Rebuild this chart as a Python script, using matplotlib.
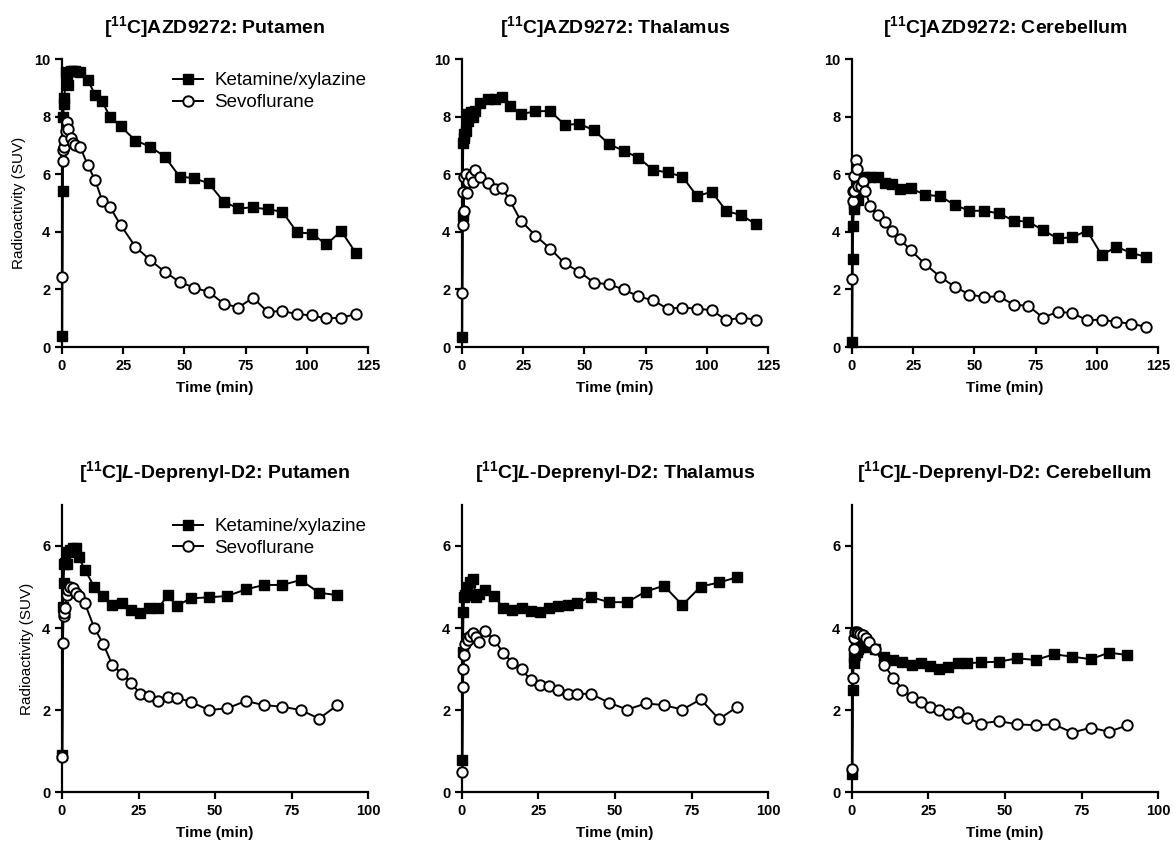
import matplotlib
matplotlib.use("Agg")
import matplotlib.pyplot as plt

plt.rcParams["font.family"] = ["Liberation Sans", "DejaVu Sans"]
plt.rcParams["mathtext.fontset"] = "custom"
plt.rcParams["mathtext.rm"] = "Liberation Sans"
plt.rcParams["mathtext.bf"] = "Liberation Sans:bold"
plt.rcParams["mathtext.it"] = "Liberation Sans:italic"
plt.rcParams["mathtext.bfit"] = "Liberation Sans:bold:italic"

# frame mid-times (min)
t_early = [0.1, 0.3, 0.5, 0.75, 1.0, 1.5, 2.0, 2.5, 3.5, 4.5, 5.5]
t_azd = t_early + [7.5, 10.5, 13.5, 16.5, 19.5] + list(range(24, 121, 6))
t_dep = t_early + [7.5, 10.5, 13.5, 16.5, 19.5, 22.5, 25.5, 28.5, 31.5, 34.5, 37.5] + list(range(42, 91, 6))

# [11C]AZD9272
azd_put_ket = [0.37, 5.43, 8.0, 8.45, 8.65, 9.55, 9.4, 9.1, 9.57, 9.6, 9.57, 9.55,
               9.28, 8.76, 8.53, 8.0, 7.66, 7.17, 6.96, 6.61, 5.92, 5.86, 5.68, 5.05,
               4.81, 4.85, 4.78, 4.70, 3.98, 3.94, 3.56, 4.03, 3.27]
azd_put_sevo = [2.44, 6.46, 6.85, 6.96, 7.2, 7.5, 7.83, 7.56, 7.25, 7.08, 7.0, 6.93,
                6.32, 5.8, 5.07, 4.87, 4.23, 3.48, 3.02, 2.61, 2.26, 2.06, 1.91, 1.51,
                1.37, 1.71, 1.22, 1.25, 1.14, 1.10, 0.99, 1.02, 1.14]
azd_thal_ket = [0.35, 4.55, 7.1, 7.4, 7.25, 7.5, 8.1, 7.85, 8.15, 8.0, 8.2, 8.47,
                8.6, 8.6, 8.68, 8.38, 8.09, 8.18, 8.2, 7.71, 7.75, 7.52, 7.05, 6.81,
                6.58, 6.15, 6.06, 5.92, 5.24, 5.39, 4.72, 4.58, 4.27]
azd_thal_sevo = [1.89, 4.22, 5.39, 4.73, 5.9, 6.0, 5.35, 5.74, 5.95, 5.74, 6.13, 5.92,
                 5.68, 5.48, 5.51, 5.1, 4.39, 3.87, 3.42, 2.9, 2.61, 2.23, 2.18, 2.0,
                 1.76, 1.62, 1.33, 1.37, 1.33, 1.28, 0.93, 1.02, 0.95]
azd_cer_ket = [0.17, 3.07, 4.21, 4.8, 5.0, 5.2, 5.3, 5.1, 5.5, 5.8, 5.92, 5.92,
               5.92, 5.71, 5.66, 5.48, 5.51, 5.28, 5.24, 4.93, 4.73, 4.73, 4.64, 4.39,
               4.35, 4.06, 3.77, 3.81, 4.04, 3.19, 3.48, 3.27, 3.13]
azd_cer_sevo = [2.37, 5.07, 5.42, 5.4, 5.94, 6.5, 6.18, 5.6, 5.6, 5.77, 5.4, 4.9,
                4.58, 4.35, 4.03, 3.75, 3.36, 2.87, 2.44, 2.09, 1.82, 1.74, 1.76, 1.47,
                1.43, 1.02, 1.22, 1.18, 0.93, 0.95, 0.87, 0.81, 0.70]

# [11C]L-Deprenyl-D2
dep_put_ket = [0.9, 4.52, 5.09, 5.56, 5.58, 5.56, 5.86, 5.9, 5.94, 5.94, 5.72, 5.42,
               5.01, 4.79, 4.56, 4.62, 4.45, 4.37, 4.49, 4.48, 4.8, 4.54,
               4.72, 4.75, 4.78, 4.94, 5.05, 5.05, 5.17, 4.86, 4.8]
dep_put_sevo = [0.86, 3.64, 4.3, 4.37, 4.5, 4.8, 4.93, 5.0, 4.98, 4.85, 4.78, 4.6,
                4.01, 3.61, 3.09, 2.89, 2.67, 2.4, 2.34, 2.21, 2.32, 2.3,
                2.2, 2.0, 2.04, 2.22, 2.12, 2.08, 2.0, 1.79, 2.12]
dep_thal_ket = [0.77, 3.42, 4.4, 4.76, 4.8, 5.0, 4.8, 5.13, 5.2, 4.76, 4.84, 4.93,
                4.79, 4.48, 4.45, 4.49, 4.41, 4.39, 4.48, 4.54, 4.56, 4.6,
                4.76, 4.63, 4.63, 4.89, 5.03, 4.56, 5.01, 5.11, 5.24]
dep_thal_sevo = [0.49, 2.57, 3.01, 3.34, 3.6, 3.75, 3.7, 3.8, 3.87, 3.79, 3.66, 3.93,
                 3.71, 3.4, 3.15, 2.99, 2.73, 2.61, 2.59, 2.48, 2.39, 2.39,
                 2.4, 2.18, 2.01, 2.16, 2.12, 2.01, 2.26, 1.78, 2.08]
dep_cer_ket = [0.43, 2.48, 3.14, 3.3, 3.35, 3.42, 3.5, 3.54, 3.58, 3.55, 3.54, 3.5,
               3.3, 3.22, 3.16, 3.11, 3.14, 3.08, 3.01, 3.04, 3.14, 3.14,
               3.16, 3.18, 3.26, 3.22, 3.36, 3.3, 3.24, 3.4, 3.34]
dep_cer_sevo = [0.55, 2.77, 3.5, 3.75, 3.91, 3.91, 3.88, 3.85, 3.83, 3.75, 3.65, 3.5,
                3.09, 2.79, 2.5, 2.32, 2.2, 2.08, 2.01, 1.9, 1.94, 1.81,
                1.67, 1.73, 1.65, 1.63, 1.65, 1.45, 1.57, 1.47, 1.63]

tracer_titles = [r"[$^{\mathbf{11}}$C]AZD9272: ", r"[$^{\mathbf{11}}$C]$\mathbfit{L}$-Deprenyl-D2: "]
regions = ["Putamen", "Thalamus", "Cerebellum"]

rows = [
    (t_azd, [(azd_put_ket, azd_put_sevo), (azd_thal_ket, azd_thal_sevo), (azd_cer_ket, azd_cer_sevo)],
     125, [0, 25, 50, 75, 100, 125], 10, [0, 2, 4, 6, 8, 10]),
    (t_dep, [(dep_put_ket, dep_put_sevo), (dep_thal_ket, dep_thal_sevo), (dep_cer_ket, dep_cer_sevo)],
     100, [0, 25, 50, 75, 100], 7, [0, 2, 4, 6]),
]

fig = plt.figure(figsize=(11.74, 8.48), dpi=100)
lefts = [0.0528, 0.3935, 0.7257]
bottoms = [0.5908, 0.066]
heights = [0.3396, 0.3385]

for r, (t, series, xmax, xticks, ymax, yticks) in enumerate(rows):
    for c in range(3):
        ax = fig.add_axes([lefts[c], bottoms[r], 0.2607, heights[r]])
        ket, sevo = series[c]
        ax.plot(t, ket, "-s", color="black", lw=1.4, ms=6.5, mfc="black",
                clip_on=False, label="Ketamine/xylazine", zorder=3)
        ax.plot(t, sevo, "-o", color="black", lw=1.4, ms=7.5, mfc="white", mew=1.4,
                clip_on=False, label="Sevoflurane", zorder=4)
        ax.set_xlim(0, xmax)
        ax.set_ylim(0, ymax)
        ax.set_xticks(xticks)
        ax.set_yticks(yticks)
        for s in ["top", "right"]:
            ax.spines[s].set_visible(False)
        for s in ["left", "bottom"]:
            ax.spines[s].set_linewidth(1.6)
        ax.tick_params(width=1.6, length=5, labelsize=10.5)
        for lab in ax.get_xticklabels() + ax.get_yticklabels():
            lab.set_fontweight("bold")
        ax.set_xlabel("Time (min)", fontsize=11, fontweight="bold", labelpad=6)
        ax.set_title(tracer_titles[r] + regions[c], fontsize=14, fontweight="bold", pad=19)
        if c == 0:
            ax.set_ylabel("Radioactivity (SUV)", fontsize=11, labelpad=6)
            ax.legend(loc="upper left", bbox_to_anchor=(0.32, 1.0), frameon=False,
                      fontsize=13.5, handlelength=1.6, handletextpad=0.6,
                      borderpad=0.2, labelspacing=0.25)

plt.savefig("out.png", dpi=100)
plt.close()
